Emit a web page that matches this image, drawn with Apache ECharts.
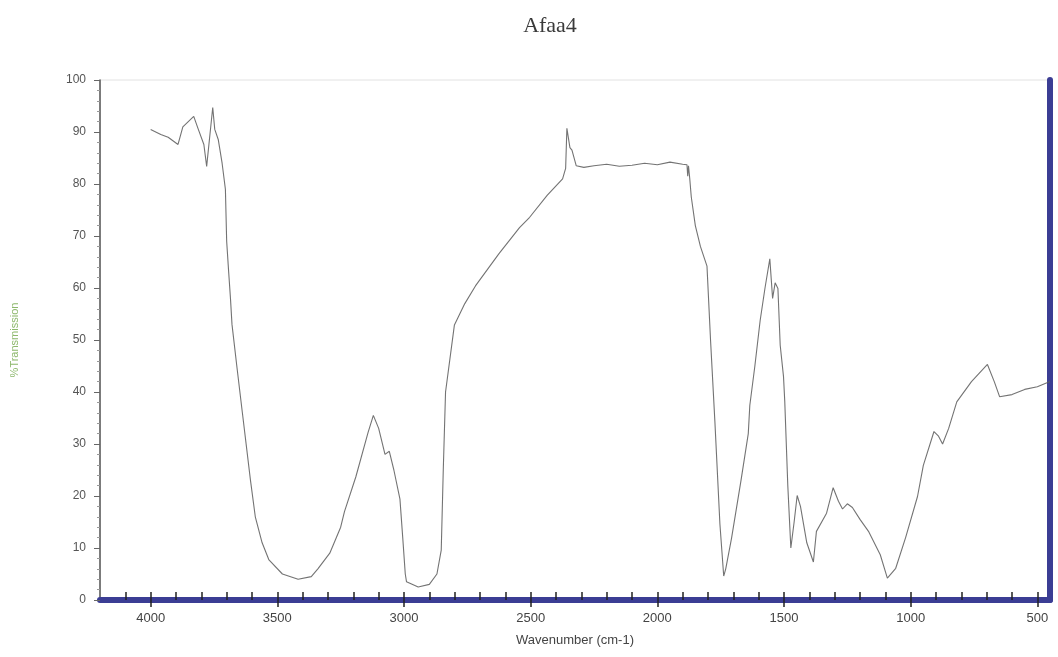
<!DOCTYPE html>
<html>
<head>
<meta charset="utf-8">
<script src="https://cdn.jsdelivr.net/npm/echarts@6/dist/echarts.min.js"></script>
<style>
html,body{margin:0;padding:0;background:#ffffff;}
#chart{width:1058px;height:657px;}
</style>
</head>
<body>
<div id="chart"></div>
<script>
// Data
var wavenumbers = [4000,3960,3931,3892,3873,3830,3814,3790,3779,3765,3755,3747,3733,3718,3705,3700,3692,3685,3679,3660,3638,3606,3587,3560,3533,3480,3418,3366,3340,3293,3250,3235,3190,3142,3121,3100,3075,3058,3040,3016,3005,2995,2990,2944,2900,2870,2853,2845,2836,2801,2760,2718,2625,2544,2504,2435,2374,2362,2357,2345,2337,2320,2290,2250,2200,2150,2100,2050,2000,1950,1900,1883,1880,1877,1872,1866,1850,1830,1804,1790,1773,1753,1738,1730,1707,1670,1641,1635,1615,1594,1575,1556,1545,1535,1524,1515,1502,1497,1485,1473,1460,1448,1435,1410,1384,1372,1332,1306,1285,1269,1250,1230,1200,1165,1120,1092,1059,1020,973,950,908,890,874,850,818,760,697,670,649,600,550,500,450];
var transmission = [90.5,89.5,89,87.6,91,93,90.8,87.6,83.4,90,94.7,90.5,88.5,84,79,69,63,58,53,45,36,23,16,11,7.7,5,4,4.5,6,9,14,17,23.7,32.2,35.5,33,28,28.6,25,19.4,12,5,3.5,2.5,3,5,9.6,25,40,52.9,57,60.4,66.6,71.6,73.6,77.8,81,83,90.7,87,86.5,83.5,83.2,83.5,83.8,83.4,83.6,84,83.7,84.2,83.8,83.7,81.5,83.5,81,77.5,72,68,64.2,50,34.5,14.6,4.6,6,11.9,22.9,32,37.4,45,53.8,60,65.6,58,61,59.9,49,43,38.2,22,10,15,20.1,18,11,7.3,13.2,16.7,21.6,19,17.5,18.5,17.8,15.5,13.1,8.7,4.2,6.1,12,19.9,25.9,32.4,31.5,30,33,38.1,42,45.3,42,39.1,39.5,40.5,41,42];
var xLabelValues = [4000,3500,3000,2500,2000,1500,1000,500];
var xMinorTickValues = [4100,4000,3900,3800,3700,3600,3500,3400,3300,3200,3100,3000,2900,2800,2700,2600,2500,2400,2300,2200,2100,2000,1900,1800,1700,1600,1500,1400,1300,1200,1100,1000,900,800,700,600,500];
var yTicks = [0,10,20,30,40,50,60,70,80,90,100];
var titleText = 'Afaa4';
var xName = 'Wavenumber (cm-1)';
var yName = '%Transmission';

var points = wavenumbers.map(function(w, i){ return [w, transmission[i]]; });
var plain = function(v){ return String(v); };

var chart = echarts.init(document.getElementById('chart'));
chart.setOption({
  backgroundColor: '#ffffff',
  animation: false,
  title: {
    text: titleText,
    left: 545, top: 10, textAlign: 'center',
    textStyle: {fontFamily: 'Liberation Serif', fontSize: 22, fontWeight: 'normal', color: '#3a3a3a'}
  },
  grid: {
    left: 100, right: 8, top: 80, bottom: 57,
    show: true, borderColor: '#e2e2e2', borderWidth: 1, backgroundColor: 'transparent'
  },
  xAxis: [{
    type: 'value', inverse: true, min: 450, max: 4200,
    name: xName, nameLocation: 'middle', nameGap: 34,
    nameTextStyle: {fontFamily: 'Liberation Sans', fontSize: 13, color: '#444'},
    axisLine: {show: true, lineStyle: {color: '#3b3d94', width: 6}},
    axisTick: {show: true, inside: true, length: 8, customValues: xMinorTickValues, lineStyle: {color: '#222', width: 1.5}},
    axisLabel: {customValues: xLabelValues, formatter: plain, margin: 12, fontFamily: 'Liberation Sans', fontSize: 13, color: '#444'},
    splitLine: {show: false}
  }, {
    type: 'value', inverse: true, min: 450, max: 4200, position: 'bottom',
    axisLine: {show: false},
    axisTick: {show: true, inside: false, length: 7, customValues: xLabelValues, lineStyle: {color: '#222', width: 1.5}},
    axisLabel: {show: false},
    splitLine: {show: false}
  }],
  yAxis: [{
    type: 'value', min: 0, max: 100, interval: 10,
    name: yName, nameLocation: 'middle', nameGap: 80, nameRotate: 90,
    nameTextStyle: {fontFamily: 'Liberation Sans', fontSize: 11, color: '#8db86c'},
    axisLine: {show: true, lineStyle: {color: '#555', width: 1.5}},
    axisTick: {show: true, length: 6, lineStyle: {color: '#666'}},
    minorTick: {show: true, splitNumber: 5, length: 3, lineStyle: {color: '#999'}},
    axisLabel: {fontFamily: 'Liberation Sans', fontSize: 12, color: '#555', margin: 14,
      customValues: yTicks, formatter: plain},
    splitLine: {show: false}
  }, {
    type: 'value', min: 0, max: 100, position: 'right',
    axisLine: {show: true, lineStyle: {color: '#3b3d94', width: 6}},
    axisTick: {show: false}, axisLabel: {show: false}, splitLine: {show: false}
  }],
  series: [{
    type: 'line', xAxisIndex: 0, yAxisIndex: 0,
    data: points, showSymbol: false, smooth: false,
    lineStyle: {color: '#5a5a5a', width: 1.1, opacity: 0.85}
  }]
});
</script>
</body>
</html>
